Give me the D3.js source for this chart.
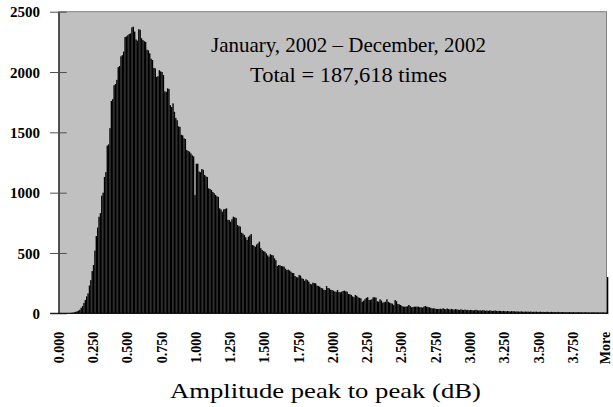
<!DOCTYPE html>
<html>
<head>
<meta charset="utf-8">
<script src="https://cdnjs.cloudflare.com/ajax/libs/d3/7.8.5/d3.min.js"></script>
<style>
  body { margin: 0; background: #fff; }
  svg { display: block; }
</style>
</head>
<body>
<div id="vis"></div>
<script>
// Counts per 0.01 dB bin, 0.000 .. 3.990
var counts = [
  0, 0, 0, 0, 0, 0, 0, 0, 2, 4, 6, 8, 12, 16, 22, 30, 46, 60, 85, 110,
  140, 165, 230, 275, 350, 400, 520, 640, 710, 800, 830, 975, 1000, 1130, 1170, 1390, 1400, 1535, 1760, 1775,
  1890, 1900, 1935, 2040, 2050, 2130, 2140, 2170, 2290, 2295, 2305, 2315, 2320, 2370, 2375, 2335, 2270, 2260, 2355, 2350,
  2280, 2265, 2255, 2250, 2185, 2180, 2155, 2110, 2100, 2035, 2030, 1960, 1965, 2015, 2005, 2000, 1975, 1840, 1835, 1865,
  1860, 1725, 1710, 1740, 1670, 1620, 1600, 1550, 1545, 1480, 1475, 1451, 1445, 1354, 1346, 1340, 1326, 1310, 1300, 980,
  1240, 1240, 1175, 1170, 1196, 1190, 1147, 1135, 1130, 1036, 1030, 1022, 1005, 995, 981, 970, 965, 870, 860, 842,
  862, 865, 870, 775, 773, 760, 780, 801, 795, 790, 732, 725, 719, 668, 660, 649, 630, 608, 635, 645,
  657, 566, 560, 552, 570, 580, 594, 540, 525, 515, 511, 497, 480, 469, 490, 483, 480, 456, 440, 392,
  400, 398, 392, 390, 387, 370, 359, 362, 355, 345, 335, 332, 309, 300, 298, 318, 312, 290, 285, 270,
  282, 275, 262, 245, 240, 254, 250, 249, 230, 226, 221, 210, 207, 195, 193, 226, 210, 207, 195, 193,
  188, 180, 179, 193, 176, 174, 179, 185, 188, 182, 179, 160, 158, 152, 140, 133, 152, 145, 133, 128,
  124, 96, 105, 116, 128, 133, 110, 112, 116, 133, 133, 130, 100, 96, 116, 105, 88, 92, 96, 116,
  95, 88, 83, 80, 69, 110, 100, 77, 74, 69, 60, 55, 55, 55, 58, 69, 60, 50, 52, 55,
  55, 55, 55, 50, 50, 47, 55, 61, 55, 52, 50, 45, 41, 41, 40, 36, 36, 36, 38, 34,
  42, 36, 33, 40, 35, 31, 37, 33, 30, 35, 32, 30, 28, 33, 29, 27, 31, 26, 29, 25,
  28, 27, 24, 26, 29, 25, 23, 25, 22, 26, 24, 21, 23, 20, 24, 22, 19, 21, 23, 20,
  18, 21, 19, 17, 20, 18, 16, 19, 17, 15, 18, 16, 17, 14, 16, 15, 13, 16, 14, 12,
  15, 13, 14, 12, 15, 11, 13, 12, 14, 10, 12, 13, 11, 12, 10, 11, 13, 9, 11, 12,
  10, 11, 9, 10, 12, 8, 10, 11, 9, 10, 8, 9, 11, 8, 9, 10, 7, 9, 8, 10,
  8, 9, 7, 8, 9, 7, 8, 6, 8, 7, 9, 6, 7, 8, 6, 7, 6, 8, 5, 7
];
var moreCount = 300;

var yTicks = [0, 500, 1000, 1500, 2000, 2500];
var xTickLabels = ['0.000', '0.250', '0.500', '0.750', '1.000', '1.250', '1.500', '1.750',
  '2.000', '2.250', '2.500', '2.750', '3.000', '3.250', '3.500', '3.750', 'More'];
var noteLines = ['January, 2002 \u2013 December, 2002', 'Total = 187,618 times'];
var xTitle = 'Amplitude peak to peak (dB)';

var width = 613;
var height = 407;
var margin = { top: 11.7, left: 58.6, right: 4.7, bottom: 93.7 };
var plotRight = 606.5;
var serif = "'Liberation Serif', 'Times New Roman', serif";

// Bin labels as Excel writes them, last bin is "More"
var categories = counts.map(function (d, i) { return (i / 100).toFixed(3); }).concat(['More']);
var values = counts.concat([moreCount]);

var x = d3.scaleBand()
  .domain(categories)
  .range([margin.left, width - margin.right])
  .padding(0);

var y = d3.scaleLinear()
  .domain([0, 2500])
  .range([height - margin.bottom, margin.top]);

var svg = d3.select('#vis').append('svg')
  .attr('width', width)
  .attr('height', height);

// Gray plot area
svg.append('rect')
  .attr('x', margin.left)
  .attr('y', y(2500))
  .attr('width', plotRight - margin.left)
  .attr('height', y(0) - y(2500))
  .attr('fill', '#c0c0c0')
  .attr('stroke', '#808080')
  .attr('stroke-width', 1);

// Bars
svg.selectAll('.bar')
  .data(values)
  .enter()
  .append('rect')
  .attr('class', 'bar')
  .attr('x', function (d, i) { return x(categories[i]); })
  .attr('y', function (d) { return y(d); })
  .attr('width', x.bandwidth())
  .attr('height', function (d) { return y(0) - y(d); })
  .attr('fill', '#000');

// Y axis, ticks cross the axis line
var yAxis = svg.append('g')
  .attr('class', 'y axis')
  .attr('transform', 'translate(' + margin.left + ',0)')
  .call(d3.axisLeft(y).tickValues(yTicks).tickFormat(d3.format('d')).tickSizeOuter(0));
yAxis.select('.domain').attr('stroke', '#000');
yAxis.selectAll('.tick line')
  .attr('x1', -8.5)
  .attr('x2', 8.2)
  .attr('stroke', '#505050');
yAxis.selectAll('.tick text')
  .attr('x', -18.6)
  .attr('dy', '0.34em')
  .style('font-family', serif)
  .style('font-weight', 'bold')
  .style('font-size', '15px')
  .style('fill', '#000');

// X axis, only every 25th bin gets a label
var xAxis = svg.append('g')
  .attr('class', 'x axis')
  .attr('transform', 'translate(0,' + y(0) + ')')
  .call(d3.axisBottom(x).tickValues(xTickLabels).tickSize(0).tickSizeOuter(0));
xAxis.select('.domain')
  .attr('d', 'M' + (margin.left - 8.5) + ',0H' + (width - margin.right))
  .attr('stroke', '#000');
xAxis.selectAll('.tick text')
  .attr('transform', 'rotate(-90)')
  .attr('text-anchor', 'end')
  .attr('x', -18.5)
  .attr('y', 0)
  .attr('dy', function (d) { return d === 'More' ? '0.18em' : '0.32em'; })
  .style('font-family', serif)
  .style('font-weight', 'bold')
  .style('font-size', '14px')
  .style('fill', '#000');

// Axis title
svg.append('text')
  .attr('x', 325.5)
  .attr('y', 398)
  .attr('text-anchor', 'middle')
  .attr('textLength', 311)
  .attr('lengthAdjust', 'spacingAndGlyphs')
  .style('font-family', serif)
  .style('font-size', '22px')
  .text(xTitle);

// Annotation
var noteWidths = [275, 197];
svg.selectAll('.note')
  .data(noteLines)
  .enter()
  .append('text')
  .attr('class', 'note')
  .attr('x', 348.5)
  .attr('y', function (d, i) { return 52 + i * 30; })
  .attr('text-anchor', 'middle')
  .attr('textLength', function (d, i) { return noteWidths[i]; })
  .attr('lengthAdjust', 'spacingAndGlyphs')
  .style('font-family', serif)
  .style('font-size', '21px')
  .text(function (d) { return d; });
</script>
</body>
</html>
